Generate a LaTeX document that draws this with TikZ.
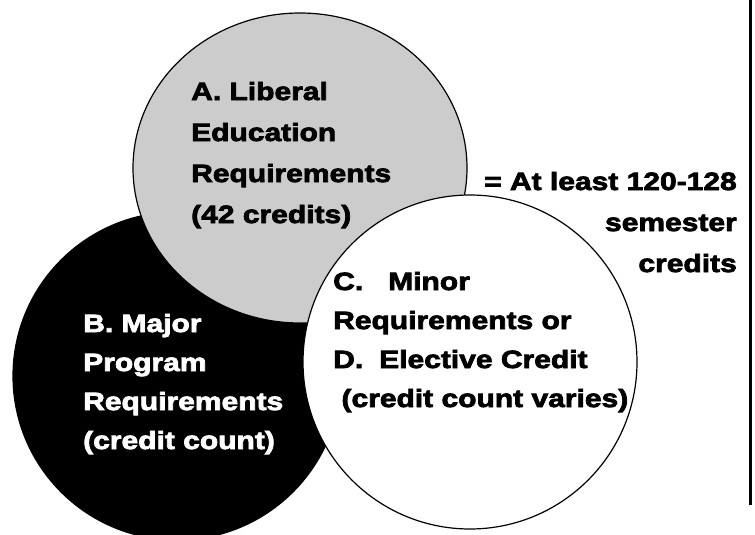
\documentclass[tikz,border=0pt]{standalone}
\usepackage{fontspec}
\newfontfamily\heavyfont{Liberation Sans Bold}[FakeStretch=1.2,FakeBold=3]
\usetikzlibrary{shapes.geometric}

\tikzset{
	setshape/.style={draw=black, line width=1.2pt, inner sep=0pt},
	settext/.style={font=\heavyfont\fontsize{25pt}{41pt}\selectfont, align=left, inner sep=0pt},
	tighttext/.style={settext, font=\heavyfont\fontsize{25pt}{39pt}\selectfont},
}

\begin{document}
\begin{tikzpicture}[x=1pt,y=-1pt]
	\useasboundingbox (0,0) rectangle (755,535);

	\node[setshape, circle, fill=black, minimum size=328pt] (major) at (177,376) {};
	\node[setshape, ellipse, fill=black!20, minimum width=334pt, minimum height=310pt] (liberal) at (300,168) {};
	\node[setshape, circle, fill=white, minimum size=334pt] (minor) at (470,362) {};

	% anchors sit on the last line
	\node[settext, anchor=base west] (libtext) at (191,223) {A. Liberal\\Education\\Requirements\\(42 credits)};
	\node[tighttext, anchor=base west, text=white] (majtext) at (83,449) {B. Major\\Program\\Requirements\\(credit count)};
	\node[tighttext, anchor=base west] (mintext) at (333,407) {C.\hspace{25pt}Minor\\Requirements or\\D.\hspace{16pt}Elective Credit\\~(credit count varies)};
	\node[settext, anchor=base east, align=right] (total) at (737,272) {= At least 120-128\\semester\\credits};

	\draw[line width=3pt] (750,0) -- (750,505);
\end{tikzpicture}
\end{document}
